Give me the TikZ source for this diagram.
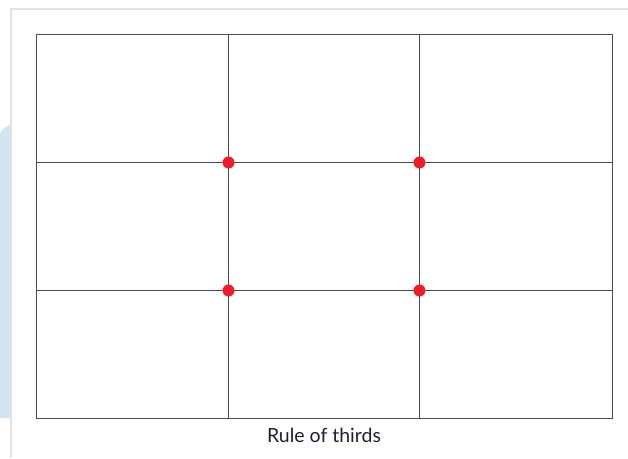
\documentclass[tikz,border=0pt]{standalone}
\usepackage{fontspec}
\setmainfont{Lato}
\definecolor{gridline}{HTML}{4A4A4A}
\definecolor{frameline}{HTML}{E2E2E2}
\definecolor{bandblue}{HTML}{D4E3F1}
\definecolor{dotred}{HTML}{EE1C25}
\definecolor{labeltext}{HTML}{1C2130}
\begin{document}
\begin{tikzpicture}[x=1pt,y=-1pt,
  gridstyle/.style={draw=gridline,line width=1.3pt},
  dotstyle/.style={circle,fill=dotred,inner sep=0pt,minimum size=12pt},
  labelstyle/.style={text=labeltext,font=\fontsize{19.5}{22}\selectfont}]
\useasboundingbox (0,0) rectangle (628,458);
% light page decoration
\fill[bandblue] (0,418) -- (0,134) .. controls (0,130) and (6,127) .. (10,125) -- (10,418) -- cycle;
\draw[frameline,line width=2pt] (628,8.5) -- (10.5,8.5) -- (10.5,458);
% grid
\coordinate (tl) at (36.5,34.5);
\coordinate (br) at (612.5,418.5);
\draw[gridstyle] (tl) rectangle (br);
\draw[gridstyle] (228.5,34.5) -- (228.5,418.5);
\draw[gridstyle] (419.5,34.5) -- (419.5,418.5);
\draw[gridstyle] (36.5,162.5) -- (612.5,162.5);
\draw[gridstyle] (36.5,290.5) -- (612.5,290.5);
% intersection points
\node[dotstyle] (p1) at (228.5,162.5) {};
\node[dotstyle] (p2) at (419.5,162.5) {};
\node[dotstyle] (p3) at (228.5,290.5) {};
\node[dotstyle] (p4) at (419.5,290.5) {};
% label
\node[labelstyle,anchor=base] (lbl) at (324,442) {Rule of thirds};
\end{tikzpicture}
\end{document}
